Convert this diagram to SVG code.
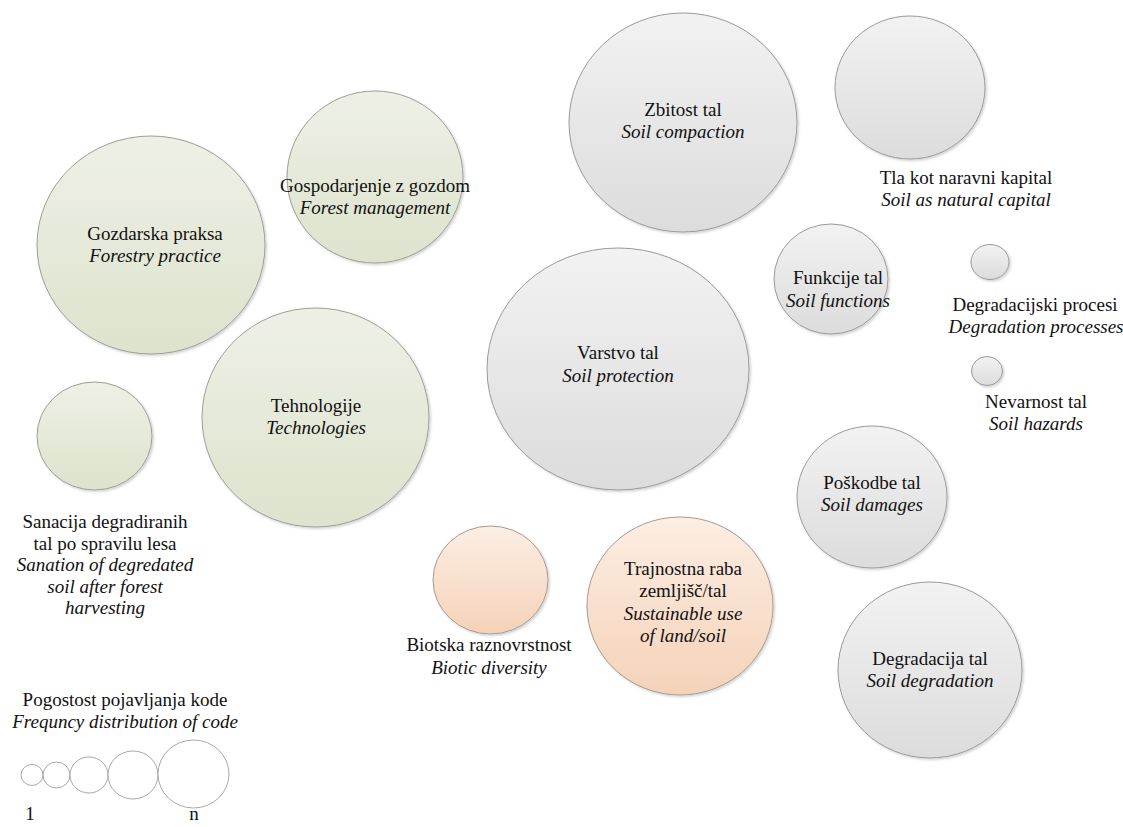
<svg xmlns="http://www.w3.org/2000/svg" width="1123" height="827" viewBox="0 0 1123 827">
<defs>
<linearGradient id="gGreen" x1="0" y1="0" x2="0" y2="1">
<stop offset="0" stop-color="#EEF0E6"/><stop offset="1" stop-color="#DDE3CD"/>
</linearGradient>
<linearGradient id="gGrey" x1="0" y1="0" x2="0" y2="1">
<stop offset="0" stop-color="#F2F2F2"/><stop offset="1" stop-color="#DCDCDC"/>
</linearGradient>
<linearGradient id="gOrange" x1="0" y1="0" x2="0" y2="1">
<stop offset="0" stop-color="#FCEEE4"/><stop offset="1" stop-color="#F5D2B8"/>
</linearGradient>
<filter id="sh" x="-10%" y="-10%" width="120%" height="120%">
<feDropShadow dx="1.5" dy="1.5" stdDeviation="1.2" flood-color="#000" flood-opacity="0.18"/>
</filter>
</defs>
<style>
.green{fill:url(#gGreen);stroke:#9C9E94;stroke-width:1;filter:url(#sh)}
.grey{fill:url(#gGrey);stroke:#9A9A9A;stroke-width:1;filter:url(#sh)}
.orange{fill:url(#gOrange);stroke:#A89A90;stroke-width:1;filter:url(#sh)}
.leg{fill:#FFFFFF;stroke:#A8A8A8;stroke-width:1}
text{font-family:"Liberation Serif","Times New Roman",serif;font-size:19px;fill:#111;text-anchor:middle}
.it{font-style:italic}
</style>
<rect width="1123" height="827" fill="#FFFFFF"/>

<g id="gozdarska-praksa">
<ellipse class="green" cx="151" cy="245" rx="114" ry="109"/>
<text x="155" y="240">Gozdarska praksa</text>
<text class="it" x="155" y="262">Forestry practice</text>
</g>

<g id="gospodarjenje">
<ellipse class="green" cx="375" cy="177" rx="88" ry="86"/>
<text x="375" y="192">Gospodarjenje z gozdom</text>
<text class="it" x="375" y="214">Forest management</text>
</g>

<g id="tehnologije">
<ellipse class="green" cx="315.5" cy="417.5" rx="113.5" ry="109.5"/>
<text x="316" y="412">Tehnologije</text>
<text class="it" x="316" y="434">Technologies</text>
</g>

<g id="sanacija">
<ellipse class="green" cx="94.5" cy="436" rx="57.5" ry="54"/>
<text x="105" y="528">Sanacija degradiranih</text>
<text x="105" y="550">tal po spravilu lesa</text>
<text class="it" x="105" y="571">Sanation of degredated</text>
<text class="it" x="105" y="593">soil after forest</text>
<text class="it" x="105" y="614">harvesting</text>
</g>

<g id="zbitost-tal">
<ellipse class="grey" cx="683" cy="122.5" rx="114" ry="109.5"/>
<text x="683" y="116">Zbitost tal</text>
<text class="it" x="683" y="138">Soil compaction</text>
</g>

<g id="tla-kot-naravni-kapital">
<ellipse class="grey" cx="910" cy="87.5" rx="75" ry="71.5"/>
<text x="966" y="184">Tla kot naravni kapital</text>
<text class="it" x="966" y="206">Soil as natural capital</text>
</g>

<g id="varstvo-tal">
<ellipse class="grey" cx="618" cy="369" rx="131" ry="121"/>
<text x="618" y="359">Varstvo tal</text>
<text class="it" x="618" y="382">Soil protection</text>
</g>

<g id="funkcije-tal">
<ellipse class="grey" cx="831" cy="279" rx="57" ry="55"/>
<text x="838" y="284">Funkcije tal</text>
<text class="it" x="838" y="307">Soil functions</text>
</g>

<g id="degradacijski-procesi">
<ellipse class="grey" cx="990" cy="262" rx="19" ry="17.5"/>
<text x="1035" y="311">Degradacijski procesi</text>
<text class="it" x="1036" y="333">Degradation processes</text>
</g>

<g id="nevarnost-tal">
<ellipse class="grey" cx="987" cy="371" rx="15.5" ry="14.5"/>
<text x="1036" y="408">Nevarnost tal</text>
<text class="it" x="1036" y="430">Soil hazards</text>
</g>

<g id="poskodbe-tal">
<ellipse class="grey" cx="872" cy="497" rx="75" ry="71"/>
<text x="872" y="489">Poškodbe tal</text>
<text class="it" x="872" y="511">Soil damages</text>
</g>

<g id="degradacija-tal">
<ellipse class="grey" cx="930" cy="670" rx="92" ry="88"/>
<text x="930" y="665">Degradacija tal</text>
<text class="it" x="930" y="687">Soil degradation</text>
</g>

<g id="biotska-raznovrstnost">
<ellipse class="orange" cx="490.5" cy="580" rx="57.5" ry="54"/>
<text x="489" y="651">Biotska raznovrstnost</text>
<text class="it" x="489" y="674">Biotic diversity</text>
</g>

<g id="trajnostna-raba">
<ellipse class="orange" cx="680" cy="606" rx="93" ry="89"/>
<text x="683" y="575">Trajnostna raba</text>
<text x="683" y="597">zemljišč/tal</text>
<text class="it" x="683" y="620">Sustainable use</text>
<text class="it" x="683" y="642">of land/soil</text>
</g>

<g id="legenda">
<text x="125" y="706">Pogostost pojavljanja kode</text>
<text class="it" x="125" y="728">Frequncy distribution of code</text>
<ellipse class="leg" cx="32" cy="775" rx="11" ry="10.5"/>
<ellipse class="leg" cx="56.5" cy="775" rx="13.5" ry="13"/>
<ellipse class="leg" cx="89" cy="775" rx="19" ry="18"/>
<ellipse class="leg" cx="133" cy="775" rx="25" ry="24"/>
<ellipse class="leg" cx="193.5" cy="774" rx="35.5" ry="34"/>
<text x="30" y="820">1</text>
<text x="194" y="820">n</text>
</g>

<g id="connectors"></g>
</svg>
